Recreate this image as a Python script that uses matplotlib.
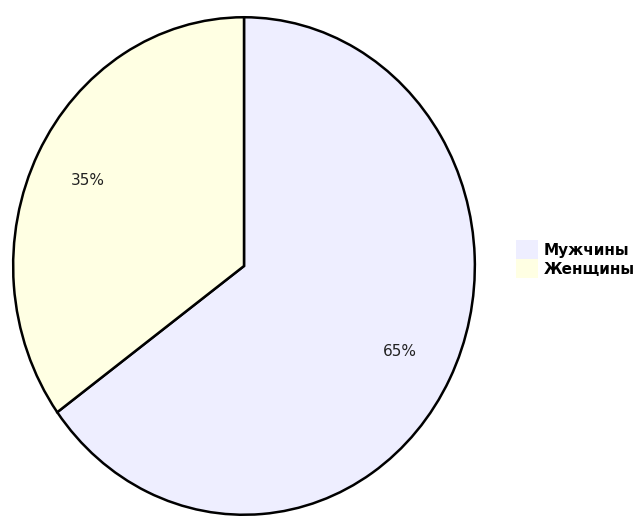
import matplotlib.pyplot as plt

# data
labels = ['Мужчины', 'Женщины']
shares = [65, 35]
colors = ['#EEEEFF', '#FFFFE3']

fig = plt.figure(figsize=(6.41, 5.17), dpi=100)
ax = fig.add_axes([12 / 641, 1 / 517, 464 / 641, 500 / 517])

wedges, texts, autotexts = ax.pie(
    shares, colors=colors, startangle=90, counterclock=False,
    autopct='%d%%', pctdistance=0.76,
    wedgeprops=dict(edgecolor='black', linewidth=1.8),
    textprops=dict(fontsize=11, color='#222222', family='DejaVu Sans Condensed'))

# the original pie is slightly stretched vertically
ax.set_aspect('auto')
ax.set_xlim(-1.005, 1.005)
ax.set_ylim(-1.005, 1.005)

fig.legend(wedges, labels, loc='center left', bbox_to_anchor=(502 / 641, 1 - 259 / 517),
           frameon=False, handlelength=1.45, handleheight=1.45, handletextpad=0.4,
           labelspacing=0.05,
           prop=dict(size=11, family='DejaVu Sans Condensed', weight='bold'))
for h in fig.legends[0].legend_handles:
    h.set_edgecolor('none')

fig.savefig('out.png', dpi=100)
